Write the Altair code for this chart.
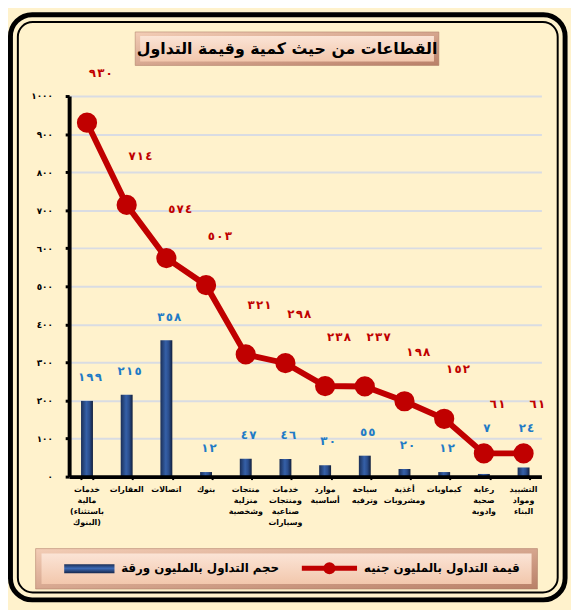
import altair as alt
import pandas as pd

# ---------------- data ----------------
categories = [
    "خدمات\nمالية\n(باستثناء\nالبنوك)",
    "العقارات",
    "اتصالات",
    "بنوك",
    "منتجات\nمنزلية\nوشخصية",
    "خدمات\nومنتجات\nصناعية\nوسيارات",
    "موارد\nأساسية",
    "سياحة\nوترفيه",
    "أغذية\nومشروبات",
    "كيماويات",
    "رعاية\nصحية\nوادوية",
    "التشييد\nومواد\nالبناء",
]
trade_value_mn_egp = [930, 714, 574, 503, 321, 298, 238, 237, 198, 152, 61, 61]
trade_volume_mn_shares = [199, 215, 358, 12, 47, 46, 30, 55, 20, 12, 7, 24]
y_ticks = [0, 100, 200, 300, 400, 500, 600, 700, 800, 900, 1000]

title_text = "القطاعات من حيث كمية وقيمة التداول"
legend_value_text = "قيمة التداول بالمليون جنيه"
legend_volume_text = "حجم التداول بالمليون ورقة"

FONT = "DejaVu Sans"
RED = "#C00000"
BLUE_LBL = "#1F7BC6"
CREAM = "#FFF2CC"

AR = str.maketrans("0123456789", "٠١٢٣٤٥٦٧٨٩")


def ar(n):
    s = str(n).translate(AR)
    return "\u200e\u200a\u200e".join(list(s))


df = pd.DataFrame({
    "cat": categories,
    "value": trade_value_mn_egp,
    "volume": trade_volume_mn_shares,
})
df["value_lbl"] = [ar(v) for v in df["value"]]
df["volume_lbl"] = [ar(v) for v in df["volume"]]

one = pd.DataFrame({"k": [0]})

# y-axis labels in Arabic-Indic digits
label_expr = "datum.label"
for d in range(10):
    label_expr = f"replace({label_expr}, regexp('{d}','g'), '{str(d).translate(AR)}')"

xscale = alt.Scale(domain=categories, paddingInner=0.70, paddingOuter=0.30)
X = alt.X("cat:N", sort=categories, scale=xscale,
          axis=alt.Axis(title=None, labels=False, domainColor="black", domainWidth=4,
                        ticks=True, tickBand="extent", tickSize=3, tickWidth=2,
                        tickColor="black", grid=False, zindex=1))
yscale = alt.Scale(domain=[0, 1000], nice=False)
Y_AXIS = alt.Axis(title=None, values=y_ticks, tickCount=len(y_ticks) + 1, format="d",
                  labelExpr=label_expr, labelFont=FONT, labelFontSize=9,
                  labelFontWeight="bold", labelColor="black", labelPadding=13,
                  labelOverlap=False,
                  domainColor="black", domainWidth=4, tickColor="black",
                  tickSize=4, tickWidth=3, gridColor="#D9DCE3", gridWidth=2)


def Yf(field):
    return alt.Y(field, scale=yscale, axis=Y_AXIS)


# ---------------- decorations ----------------
def rect(x, x2, y, y2, **kw):
    return alt.Chart(one).mark_rect(**kw).encode(
        x=alt.value(x), x2=alt.value(x2), y=alt.value(y), y2=alt.value(y2))

outer_border = rect(-59.5, 503, -82.5, 511, filled=False, stroke="black",
                    strokeWidth=5, cornerRadius=22)
inner_border = rect(-52, 495.5, -75, 503.5, filled=False, stroke="black",
                    strokeWidth=2, cornerRadius=15)

peach_outer = alt.Gradient(gradient="linear", x1=0, x2=1, y1=0, y2=1,
                           stops=[alt.GradientStop(color="#F3CDB6", offset=0),
                                  alt.GradientStop(color="#B98068", offset=1)])
peach_inner = alt.Gradient(gradient="linear", x1=0, x2=0, y1=0, y2=1,
                           stops=[alt.GradientStop(color="#FBE4D6", offset=0),
                                  alt.GradientStop(color="#F2C7AC", offset=1)])

title_box_o = rect(67, 375, -65, -31, fill=peach_outer, stroke="#A77762", strokeWidth=0.5)
title_box_i = rect(72, 370, -61, -35, fill=peach_inner)
title = alt.Chart(pd.DataFrame({"t": [title_text]})).mark_text(
    font=FONT, fontSize=16, fontWeight="bold", color="black",
    align="center", baseline="middle").encode(
    text="t:N", x=alt.value(221), y=alt.value(-48))

legend_box_o = rect(-34, 475, 459, 500, fill=peach_outer, stroke="#A77762", strokeWidth=0.5)
legend_box_i = rect(-28, 469, 464, 495, fill=peach_inner)

leg_txt = pd.DataFrame({"t": [legend_value_text, legend_volume_text],
                        "px": [457, 213]})
legend_texts = alt.Chart(leg_txt).mark_text(
    font=FONT, fontSize=12, fontWeight="bold", color="black",
    align="right", baseline="middle").encode(
    text="t:N", x=alt.X("px:Q", scale=None), y=alt.value(479))
legend_line = alt.Chart(one).mark_rule(color=RED, strokeWidth=5).encode(
    x=alt.value(236), x2=alt.value(292), y=alt.value(479))
legend_dot = alt.Chart(one).mark_point(filled=True, size=150, color=RED,
                                       opacity=1, shape="circle").encode(
    x=alt.value(264), y=alt.value(479))
bar_grad = alt.Gradient(gradient="linear", x1=0, x2=1, y1=0, y2=0,
                        stops=[alt.GradientStop(color="#1B2F57", offset=0),
                               alt.GradientStop(color="#3560A8", offset=0.45),
                               alt.GradientStop(color="#2A4D8C", offset=0.7),
                               alt.GradientStop(color="#111F3C", offset=1)])
legend_bar = rect(-5, 46, 475, 484, fill=alt.Gradient(
    gradient="linear", x1=0, x2=0, y1=0, y2=1,
    stops=[alt.GradientStop(color="#1B2F57", offset=0),
           alt.GradientStop(color="#3D6AB5", offset=0.45),
           alt.GradientStop(color="#15264A", offset=1)]))

# ---------------- data layers ----------------
base = alt.Chart(df)
bars = base.mark_bar(color=bar_grad).encode(x=X, y=Yf("volume:Q"))
line = base.mark_line(color=RED, strokeWidth=6).encode(x=X, y=Yf("value:Q"))
dots = base.mark_circle(color=RED, size=420, opacity=1).encode(x=X, y=Yf("value:Q"))
# bar labels that would collide with the line's markers are lifted above them
bar_labels = base.transform_calculate(
    lbl_y="datum.value - datum.volume < 100 ? datum.value + 5 : datum.volume"
).mark_text(font=FONT, fontSize=12, fontWeight="bold",
            color=BLUE_LBL, dx=3, dy=-24, baseline="middle").encode(
    x=X, y=Yf("lbl_y:Q"), text="volume_lbl:N")
line_labels = base.mark_text(font=FONT, fontSize=12, fontWeight="bold",
                             color=RED, dx=14, dy=-50, baseline="middle").encode(
    x=X, y=Yf("value:Q"), text="value_lbl:N")
x_labels = base.mark_text(font=FONT, fontSize=8, fontWeight="bold", color="black",
                          baseline="top", align="center", lineBreak="\n",
                          lineHeight=11).encode(
    x=X, y=alt.value(396), text="cat:N")

chart = alt.layer(
    outer_border, inner_border,
    title_box_o, title_box_i, title,
    bars, line, dots, bar_labels, line_labels, x_labels,
    legend_box_o, legend_box_i, legend_texts, legend_line, legend_dot, legend_bar,
).properties(
    width=479, height=386,
    padding={"left": 62, "top": 85, "right": 30, "bottom": 131},
    autosize=alt.AutoSizeParams(type="none"),
    background=CREAM,
).configure_view(stroke=None)

chart.save("out.html", embed_options={"renderer": "svg", "actions": False})
